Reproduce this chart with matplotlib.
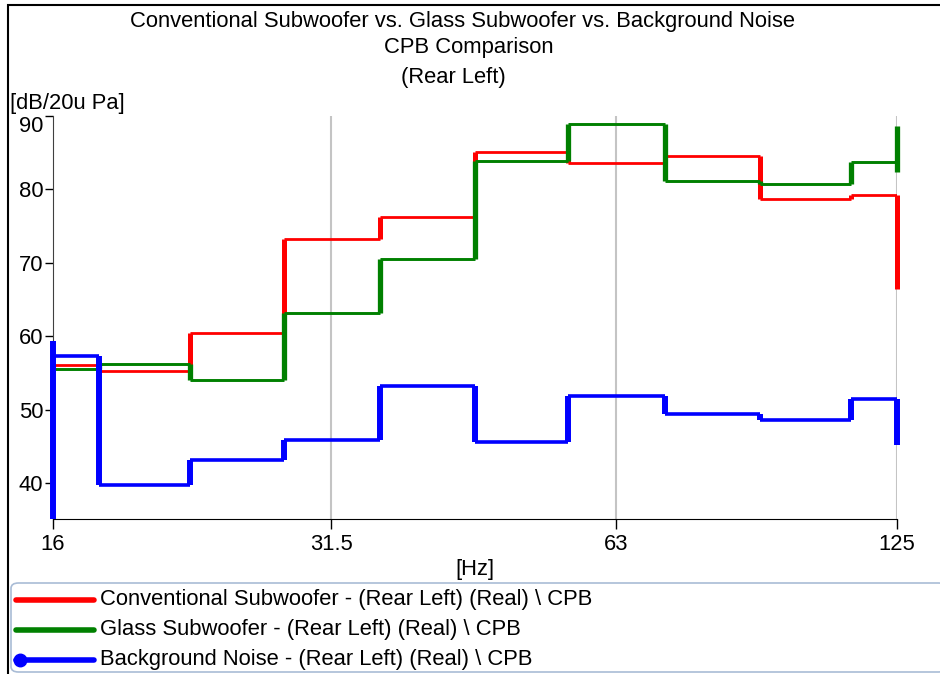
import numpy as np
import matplotlib
matplotlib.use("Agg")
import matplotlib.pyplot as plt
from matplotlib.patches import FancyBboxPatch, Rectangle
from matplotlib.lines import Line2D

# 1/3-octave band centre frequencies [Hz]
bands = [16, 20, 25, 31.5, 40, 50, 63, 80, 100, 125]

# Band levels [dB re 20 uPa]
conventional = [56.1, 55.2, 60.5, 73.3, 76.2, 85.1, 83.6, 84.5, 78.7, 79.3]
glass = [55.6, 56.2, 54.1, 63.2, 70.5, 83.9, 88.9, 81.2, 80.7, 83.8]
background = [57.3, 39.7, 43.1, 45.8, 53.2, 45.6, 51.9, 49.4, 48.6, 51.4]

# Levels of the neighbouring bands just outside the plotted range
conventional_in, conventional_out = [], [66.4]
glass_in, glass_out = [], [88.7, 82.4]
background_in, background_out = [30.0, 59.4], [45.2]

series_names = [
    "Conventional Subwoofer - (Rear Left) (Real) \\ CPB",
    "Glass Subwoofer - (Rear Left) (Real) \\ CPB",
    "Background Noise - (Rear Left) (Real) \\ CPB",
]
colors = ["#ff0000", "#008000", "#0000ff"]
x_ticks = [16, 31.5, 63, 125]
x_tick_labels = ["16", "31.5", "63", "125"]
y_ticks = [40, 50, 60, 70, 80, 90]

FONT = ["Liberation Sans", "DejaVu Sans"]
FS = 15.8
plt.rcParams["font.family"] = FONT

fig = plt.figure(figsize=(9.4, 6.74), dpi=100)
W, H = 940, 674
ax = fig.add_axes([53 / W, 1 - 519 / H, (897 - 53) / W, (519 - 116) / H])
ax.set_xscale("log")
ax.set_xlim(16, 125)
YLIM = (35.1, 90)
ax.set_ylim(*YLIM)

# band edges: geometric midpoints between centres, clipped to the axis range
f = np.array(bands, dtype=float)
edges = np.concatenate([[16], np.sqrt(f[:-1] * f[1:]), [125]])

def draw_steps(vals, lead, tail, color, hlw, vlw):
    vals = np.asarray(vals)
    ax.hlines(vals, edges[:-1], edges[1:], colors=color, lw=hlw, zorder=3)
    # inner transitions
    ax.vlines(edges[1:-1], np.minimum(vals[:-1], vals[1:]),
              np.maximum(vals[:-1], vals[1:]), colors=color, lw=vlw, zorder=3)
    # transitions at the plot edges, kept inside the value range
    for x_edge, seq in ((16, list(lead) + [vals[0]]), (125, [vals[-1]] + list(tail))):
        if len(seq) > 1:
            lo, hi = np.clip([min(seq), max(seq)], *YLIM)
            ax.vlines(x_edge, lo, hi, colors=color, lw=vlw, zorder=3, clip_on=False)

draw_steps(conventional, conventional_in, conventional_out, colors[0], 2.0, 3.6)
draw_steps(glass, glass_in, glass_out, colors[1], 2.1, 3.8)
draw_steps(background, background_in, background_out, colors[2], 2.6, 4.3)

# grid and axes styling
for xt in x_ticks[1:]:
    ax.axvline(xt, color="#c4c4c4", lw=1.5, zorder=1)
ax.spines["top"].set_visible(False)
ax.spines["right"].set_visible(False)
ax.spines["left"].set_color("#404040")
ax.spines["bottom"].set_color("black")
ax.set_xticks(x_ticks)
ax.set_xticklabels(x_tick_labels)
ax.xaxis.set_minor_locator(matplotlib.ticker.NullLocator())
ax.set_yticks(y_ticks)
ax.tick_params(axis="x", direction="out", length=7, width=1, labelsize=FS, pad=4)
ax.tick_params(axis="y", direction="out", length=6, width=1, labelsize=FS, pad=1)
for lbl, v in zip(ax.get_yticklabels(), y_ticks):
    if v == 90:
        lbl.set_va("top")

fig.text(463 / W, 1 - 22 / H, "Conventional Subwoofer vs. Glass Subwoofer vs. Background Noise",
         ha="center", va="center", fontsize=FS)
fig.text(469 / W, 1 - 48 / H, "CPB Comparison", ha="center", va="center", fontsize=FS)
fig.text(453 / W, 1 - 77 / H, "(Rear Left)", ha="center", va="center", fontsize=FS)
fig.text(10 / W, 1 - 104 / H, "[dB/20u Pa]", ha="left", va="center", fontsize=FS)
fig.text(475 / W, 1 - 570 / H, "[Hz]", ha="center", va="center", fontsize=FS)

# outer frame
fig.patches.append(Rectangle((8 / W, -0.01), 1.0, 1 - 5 / H + 0.01, transform=fig.transFigure,
                             fill=False, edgecolor="black", lw=1.5))

# legend box
fig.patches.append(FancyBboxPatch((11 / W, 1 - 672 / H), (W - 5) / W, (672 - 583) / H,
                                  boxstyle="round,pad=0,rounding_size=0.008",
                                  transform=fig.transFigure, fill=True, facecolor="white",
                                  edgecolor="#a9bcd6", lw=1.2))
legend_rows = [600, 630, 660]
for i, (name, c) in enumerate(zip(series_names, colors)):
    yy = 1 - legend_rows[i] / H
    fig.add_artist(Line2D([16 / W, 94 / W], [yy, yy], color=c, lw=4.0,
                          solid_capstyle="round", transform=fig.transFigure))
    if i == 2:
        fig.add_artist(Line2D([20 / W], [yy], color=c, marker="o", markersize=9,
                              transform=fig.transFigure))
    fig.text(100 / W, yy, name, ha="left", va="center", fontsize=FS)

fig.savefig("out.png", dpi=100)
